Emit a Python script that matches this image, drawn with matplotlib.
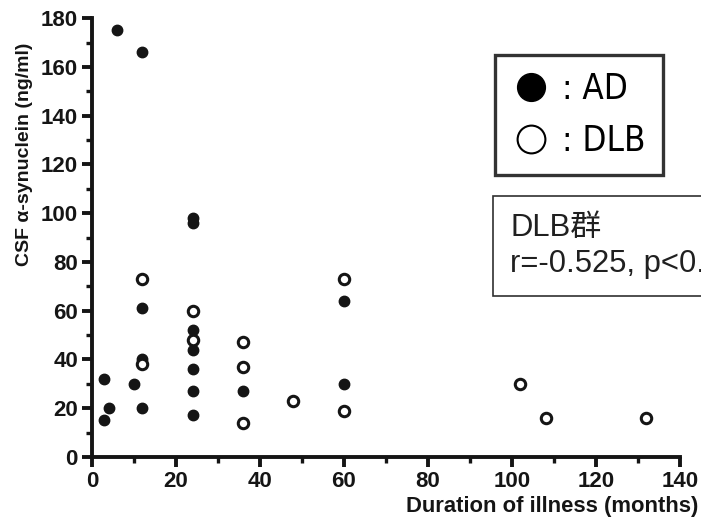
import matplotlib.pyplot as plt
from matplotlib.lines import Line2D

# AD group (filled)
ad_months = [3, 3, 4, 6, 10, 12, 12, 12, 12, 24, 24, 24, 24, 24, 24, 24, 36, 60, 60]
ad_syn = [32, 15, 20, 175, 30, 166, 61, 40, 20, 98, 96, 52, 44, 36, 27, 17, 27, 64, 30]

# DLB group (open)
dlb_months = [12, 12, 24, 24, 36, 36, 36, 48, 60, 60, 102, 108, 132]
dlb_syn = [73, 38, 60, 48, 47, 37, 14, 23, 73, 19, 30, 16, 16]

plt.rcParams['font.family'] = ['Liberation Sans', 'DejaVu Sans']

fig = plt.figure(figsize=(7.01, 5.18), dpi=100)
ax = fig.add_axes([0.131, 0.118, 0.839, 0.847])

ax.plot(ad_months, ad_syn, 'o', color='#151515', markersize=7.5, zorder=3)
ax.plot(dlb_months, dlb_syn, 'o', markerfacecolor='white', markeredgecolor='#151515',
        markeredgewidth=2.2, markersize=7.5, zorder=3)

ax.set_xlim(0, 140)
ax.set_ylim(0, 180)
ax.set_xticks(range(0, 141, 20))
ax.set_yticks(range(0, 181, 20))
ax.set_xticks(range(10, 141, 20), minor=True)
ax.set_yticks(range(10, 181, 20), minor=True)
for s in ['top', 'right']:
    ax.spines[s].set_visible(False)
for s in ['left', 'bottom']:
    ax.spines[s].set_linewidth(2.8)
    ax.spines[s].set_color('#151515')
ax.tick_params(which='major', length=7, width=2.8, color='#151515', pad=3)
ax.tick_params(which='minor', length=4, width=2.4, color='#151515')
for lab in ax.get_xticklabels() + ax.get_yticklabels():
    lab.set_fontsize(16)
    lab.set_fontweight('bold')
    lab.set_color('#151515')

ax.set_ylabel('CSF α-synuclein (ng/ml)', fontsize=14, fontweight='bold', color='#151515')
ax.yaxis.set_label_coords(-0.1, 0.69)
ax.set_xlabel('Duration of illness (months)', fontsize=15.8, fontweight='bold', color='#151515',
              ha='right')
ax.xaxis.set_label_coords(1.031, -0.09)

handles = [
    Line2D([], [], marker='o', linestyle='none', color='black', markersize=20),
    Line2D([], [], marker='o', linestyle='none', markerfacecolor='white',
           markeredgecolor='black', markeredgewidth=1.5, markersize=20),
]
leg = ax.legend(handles, [': AD', ': DLB'], loc='upper left', bbox_to_anchor=(0.685, 0.916),
                borderaxespad=0, frameon=True, fancybox=False, edgecolor='black',
                handletextpad=0.35, borderpad=0.5, labelspacing=0.5, handlelength=1.1,
                prop={'family': 'DejaVu Sans', 'stretch': 'condensed', 'size': 25})
leg.get_frame().set_linewidth(2.4)

fig.text(0.728, 0.525, 'DLB群\nr=-0.525, p<0.01', fontsize=22.3, ha='left', va='center',
         family=['Liberation Sans', 'Noto Sans CJK JP'], linespacing=1.25, color='#202020',
         bbox=dict(boxstyle='square,pad=0.55', facecolor='white', edgecolor='#303030', linewidth=1.2))

fig.savefig('out.png', dpi=100)
